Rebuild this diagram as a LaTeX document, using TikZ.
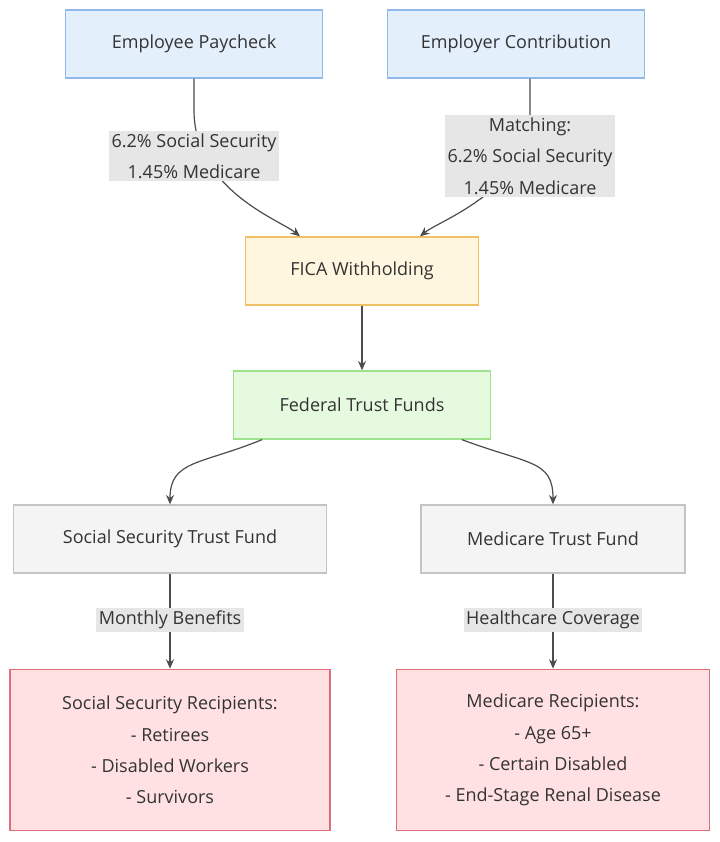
\documentclass[tikz,border=0pt]{standalone}
\usepackage{fontspec}
\setmainfont{Open Sans}
\usetikzlibrary{arrows.meta,positioning}
\definecolor{blueF}{HTML}{E3F0FC}\definecolor{blueD}{HTML}{90B8E8}
\definecolor{orgF}{HTML}{FFF6DF}\definecolor{orgD}{HTML}{F2C064}
\definecolor{grnF}{HTML}{E5FADF}\definecolor{grnD}{HTML}{9DE38C}
\definecolor{gryF}{HTML}{F4F4F4}\definecolor{gryD}{HTML}{C4C4C4}
\definecolor{redF}{HTML}{FFE1E4}\definecolor{redD}{HTML}{DE6E78}
\definecolor{lblF}{HTML}{E6E6E6}
\tikzset{
  box/.style={draw, line width=1pt, minimum height=51pt, align=center, font=\fontsize{13.5}{23.5}\selectfont, text=black!80},
  lbl/.style={fill=lblF, inner sep=2pt, align=center, font=\fontsize{13.5}{23.5}\selectfont, text=black!80},
  flow/.style={draw=black!70, line width=0.9pt, -{Stealth[length=7pt,width=6pt]}}
}
\begin{document}
\begin{tikzpicture}[x=0.75pt,y=0.75pt,yscale=-1,xscale=1]
\useasboundingbox (0,0) rectangle (720,842);

% boxes
\node [box, fill=blueF, draw=blueD, minimum width=193pt] (paycheck) at (194,44) {Employee Paycheck};
\node [box, fill=blueF, draw=blueD, minimum width=193pt] (employer) at (516,44) {Employer Contribution};
\node [box, fill=orgF, draw=orgD, minimum width=175pt] (fica) at (362,271) {FICA Withholding};
\node [box, fill=grnF, draw=grnD, minimum width=193pt] (federal) at (362,405) {Federal Trust Funds};
\node [box, fill=gryF, draw=gryD, minimum width=235pt] (ssfund) at (170,539) {Social Security Trust Fund};
\node [box, fill=gryF, draw=gryD, minimum width=198pt] (medfund) at (553,539) {Medicare Trust Fund};
\node [box, fill=redF, draw=redD, minimum width=240pt, minimum height=121pt] (ssrec) at (170,750) {Social Security Recipients:\\- Retirees\\- Disabled Workers\\- Survivors};
\node [box, fill=redF, draw=redD, minimum width=235pt, minimum height=121pt] (medrec) at (553,750) {Medicare Recipients:\\- Age 65+\\- Certain Disabled\\- End-Stage Renal Disease};

% connectors
\coordinate (p1) at (194,110);
\coordinate (e1) at (530,112);
\draw [flow] (paycheck.south) -- (p1) .. controls (194,190) and (280,220) .. (fica.north -| 300,0);
\draw [flow] (employer.south -| e1) -- (e1) .. controls (530,190) and (440,220) .. (fica.north -| 420,0);
\draw [flow] (fica) -- (federal);
\draw [flow] (federal.south -| 262,0) .. controls (200,465) and (170,460) .. (ssfund.north);
\draw [flow] (federal.south -| 462,0) .. controls (530,465) and (553,460) .. (medfund.north);
\draw [flow] (ssfund) -- (ssrec);
\draw [flow] (medfund) -- (medrec);

% edge labels
\node [lbl] (l1) at (194,156) {6.2\% Social Security\\1.45\% Medicare};
\node [lbl] (l2) at (530,156) {Matching:\\6.2\% Social Security\\1.45\% Medicare};
\node [lbl] (l3) at (170,620) {Monthly Benefits};
\node [lbl] (l4) at (553,620) {Healthcare Coverage};
\end{tikzpicture}
\end{document}
